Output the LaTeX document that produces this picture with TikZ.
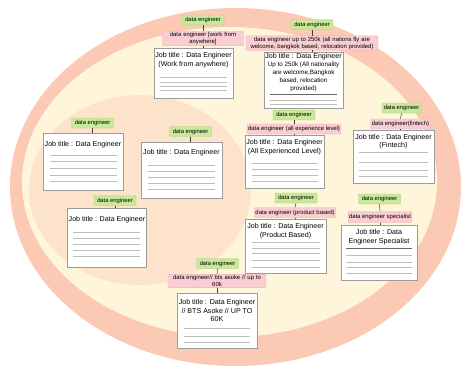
\documentclass[tikz,border=0pt]{standalone}
\usepackage{fontspec}
\setmainfont{Liberation Sans}
\definecolor{ring}{HTML}{FBC9B4}
\definecolor{cream}{HTML}{FEF5DA}
\definecolor{peach}{HTML}{FEE3CC}
\definecolor{gfill}{HTML}{C8E89A}
\definecolor{gdraw}{HTML}{A8D474}
\definecolor{pfill}{HTML}{F9CDD2}
\definecolor{pdraw}{HTML}{EFB0B8}
\definecolor{cdraw}{HTML}{9C9C9C}
\definecolor{rulec}{HTML}{BDBDBD}
\begin{document}
\begin{tikzpicture}[x=1pt,y=-1pt,
  tag/.style={fill=gfill,draw=gdraw,line width=0.4pt,rounded corners=1pt,inner sep=1pt,font=\fontsize{5.8}{6.5}\selectfont,minimum height=10pt,minimum width=42pt},
  sub/.style={fill=pfill,draw=pdraw,line width=0.4pt,rounded corners=1pt,inner sep=1pt,font=\fontsize{5.9}{7}\selectfont,align=center,minimum height=10pt},
  card/.style={fill=white,draw=cdraw,line width=0.6pt},
  ttl/.style={font=\fontsize{7.1}{8.2}\selectfont,align=center,inner sep=0pt},
  sm/.style={font=\fontsize{6.3}{8}\selectfont},
  link/.style={draw=black!75,line width=0.5pt},
  rule/.style={draw=rulec,line width=0.5pt}]
\useasboundingbox (0,0) rectangle (464,370);
% background shapes
\fill[ring] (235.5,187) ellipse [x radius=225.5, y radius=179];
\fill[cream] (229.5,182) ellipse [x radius=207.5, y radius=155];
\fill[peach] (140,190) ellipse [x radius=111, y radius=95];

% group 1
\node[tag] (g1) at (203,20) {data engineer};
\node[sub,text width=79pt] (p1) at (203,38.5) {data engineer [work from\\anywhere]};
\node[card,minimum width=79,minimum height=50] (c1) at (193.5,73) {};
\node[ttl,anchor=north] (t1) at (193.5,52.5) {Job title : Data Engineer\\(Work from anywhere)};
\foreach \y in {77,82,86,90} \draw[rule] (160,\y) -- (227,\y);
\draw[link] (g1.south) -- (p1.north);
\draw[link] (p1.south) -- (p1.south |- c1.north);

% group 2
\node[tag] (g2) at (312,24.5) {data engineer};
\node[sub,text width=130pt] (p2) at (312,43) {data engineer up to 250k (all nations fly are\\welcome, bangkok based, relocation provided)};
\node[card,minimum width=79,minimum height=56] (c2) at (303.5,80) {};
\node[ttl,anchor=north,font=\fontsize{6.3}{7.9}\selectfont] (t2) at (303.5,53.5) {{\fontsize{7.1}{7.9}\selectfont Job title : Data Engineer}\\Up to 250k (All nationality\\are welcome,Bangkok\\based, relocation\\provided)};
\draw[draw=black!60,line width=0.5pt] (270,94.5) -- (337,94.5);
\foreach \y in {100,104} \draw[rule] (270,\y) -- (337,\y);
\draw[link] (g2.south) -- (p2.north);
\draw[link] (p2.south) -- (p2.south |- c2.north);

% group 3
\node[tag] (g3) at (92.5,123) {data engineer};
\node[card,minimum width=80,minimum height=57] (c3) at (83,161.5) {};
\node[ttl,anchor=west] (t3) at (44.5,145) {Job title : Data Engineer};
\foreach \y in {155,161,168,175,181} \draw[rule] (50,\y) -- (117,\y);
\draw[link] (g3.south) -- (g3.south |- c3.north);

% group 4
\node[tag] (g4) at (190.5,131.5) {data engineer};
\node[card,minimum width=81,minimum height=56] (c4) at (181.5,170) {};
\node[ttl,anchor=west] (t4) at (143,153) {Job title : Data Engineer};
\foreach \y in {165,171,177,183,189} \draw[rule] (148,\y) -- (215,\y);
\draw[link] (g4.south) -- (g4.south |- c4.north);

% group 5
\node[tag] (g5) at (115,200.5) {data engineer};
\node[card,minimum width=79,minimum height=59] (c5) at (106.5,237.5) {};
\node[ttl,anchor=west] (t5) at (68.5,220) {Job title : Data Engineer};
\foreach \y in {232,238,244,250,256} \draw[rule] (73,\y) -- (140,\y);
\draw[link] (g5.south) -- (g5.south |- c5.north);

% group 6
\node[tag] (g6) at (294,115) {data engineer};
\node[sub] (p6) at (294,129) {data engineer (all experience level)};
\node[card,minimum width=79,minimum height=53] (c6) at (284.5,161.5) {};
\node[ttl,anchor=north] (t6) at (284.5,139.5) {Job title : Data Engineer\\(All Experienced Level)};
\foreach \y in {163,169,175,181} \draw[rule] (252,\y) -- (318,\y);
\draw[link] (g6.south) -- (p6.north);
\draw[link] (p6.south) -- (p6.south |- c6.north);

% group 7
\node[tag,minimum width=39pt] (g7) at (401.5,108) {data engineer};
\node[sub] (p7) at (400.5,124) {data engineer(fintech)};
\node[card,minimum width=81,minimum height=53] (c7) at (393.5,156.5) {};
\node[ttl,anchor=north] (t7) at (393.5,134) {Job title : Data Engineer\\(Fintech)};
\foreach \y in {152,162,170,176} \draw[rule] (359,\y) -- (428,\y);
\draw[link] (g7.south) -- (p7.north);
\draw[link] (p7.south) -- (p7.south |- c7.north);

% group 8
\node[tag] (g8) at (296,198) {data engineer};
\node[sub] (p8) at (295,212.5) {data engineer (product based)};
\node[card,minimum width=81,minimum height=54] (c8) at (285.5,246) {};
\node[ttl,anchor=north] (t8) at (285.5,223.5) {Job title : Data Engineer\\(Product Based)};
\foreach \y in {242,248,253,260,267} \draw[rule] (252,\y) -- (320,\y);
\draw[link] (g8.south) -- (p8.north);
\draw[link] (p8.south) -- (p8.south |- c8.north);

% group 9
\node[tag] (g9) at (379.5,199) {data engineer};
\node[sub,minimum height=11pt] (p9) at (380,217) {data engineer specialist};
\node[card,minimum width=76,minimum height=55] (c9) at (379,252.5) {};
\node[ttl,anchor=north] (t9) at (379,229.5) {Job title : Data\\Engineer Specialist};
\draw[draw=black!60,line width=0.5pt] (346,248) -- (412,248);
\foreach \y in {255,262,267,273} \draw[rule] (346,\y) -- (412,\y);
\draw[link] (g9.south) -- (p9.north);
\draw[link] (p9.south) -- (p9.south |- c9.north);

% group 10
\node[tag] (g10) at (217.5,263.5) {data engineer};
\node[sub,text width=96pt] (p10) at (217,281) {data engineer// bts asoke // up to\\60k};
\node[card,minimum width=80,minimum height=55] (c10) at (217,320.5) {};
\node[ttl,anchor=north] (t10) at (217,299.5) {Job title : Data Engineer\\// BTS Asoke // UP TO\\60K};
\foreach \y in {328,336,342} \draw[rule] (184,\y) -- (250,\y);
\draw[link] (g10.south) -- (p10.north);
\draw[link] (p10.south) -- (p10.south |- c10.north);
\end{tikzpicture}
\end{document}
